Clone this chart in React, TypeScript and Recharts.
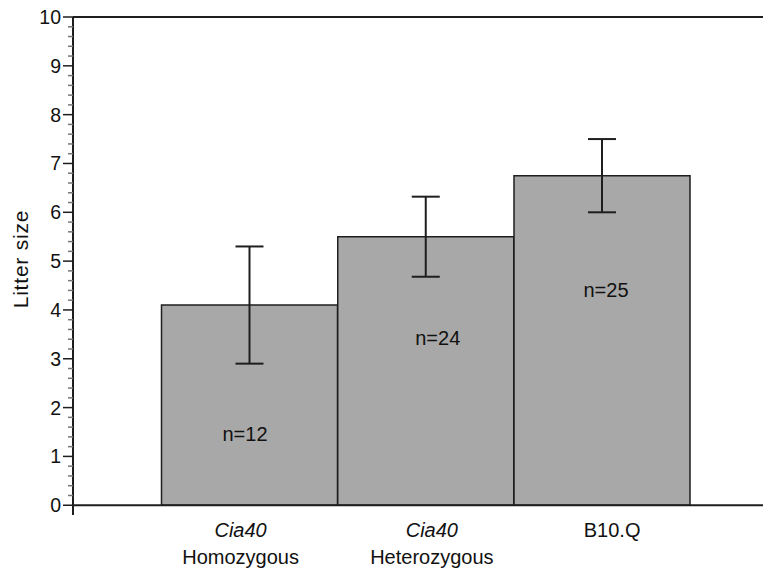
import React from "react"
import { Bar, BarChart, ErrorBar, LabelList, ReferenceLine, XAxis, YAxis } from "recharts"

const strainLine = ["Cia40", "Cia40", "B10.Q"]
const genotypeLine = ["Homozygous", "Heterozygous", ""]
const meanLitter = [4.1, 5.5, 6.75]
const errLitter = [1.2, 0.82, 0.75]
const counts = [12, 24, 25]
const majorTicks = [0, 1, 2, 3, 4, 5, 6, 7, 8, 9, 10]

const FONT = "'Liberation Sans', Arial, Helvetica, sans-serif"
const INK = "#1e1e1e"
const FS = 20

const rows = strainLine.map((s, i) => ({
  name: `${s} ${genotypeLine[i]}`.trim(),
  mean: meanLitter[i],
  err: errLitter[i],
  n: counts[i],
}))

// four minor ticks between each pair of labelled ticks
const yTicks = majorTicks.flatMap((t, i) =>
  i < majorTicks.length - 1 ? [0, 0.2, 0.4, 0.6, 0.8].map((f) => Math.round((t + f) * 10) / 10) : [t]
)

// hand placement of the text, matching the original figure
const tickShift = [-9, 6, 10]
const nShift = [-4.5, 12, 4]
const nRise = [71, 167, 215]

function YTick({ x, y, payload }: any) {
  const v = payload.value
  const major = Math.abs(v - Math.round(v)) < 1e-6
  return (
    <g>
      <line x1={x - (major ? 10 : 5)} x2={x} y1={y} y2={y} stroke={major ? INK : "#777"} strokeWidth={1.5} />
      {major && (
        <text x={x - 12} y={y + 7} textAnchor="end" fontSize={19.5} fontFamily={FONT} fill="#111">
          {v}
        </text>
      )}
    </g>
  )
}

function XTick({ x, y, index }: any) {
  const cx = x + tickShift[index]
  return (
    <g fontFamily={FONT} fontSize={FS} fill="#111">
      <text x={cx} y={y + 22} textAnchor="middle" fontStyle={index < 2 ? "italic" : "normal"}>
        {strainLine[index]}
      </text>
      {genotypeLine[index] && (
        <text x={cx} y={y + 49} textAnchor="middle">
          {genotypeLine[index]}
        </text>
      )}
    </g>
  )
}

function YTitle({ viewBox }: any) {
  const { x, y, height } = viewBox
  const cx = x + 2
  const cy = y + height / 2 - 7
  return (
    <text
      x={0}
      y={0}
      transform={`translate(${cx}, ${cy}) rotate(-90)`}
      textAnchor="middle"
      dominantBaseline="central"
      fontSize={21}
      letterSpacing={0.8}
      fontFamily={FONT}
      fill="#111"
    >
      Litter size
    </text>
  )
}

function CountLabel({ x, y, width, height, index }: any) {
  const bottom = y + height
  return (
    <text
      x={x + width / 2 + nShift[index]}
      y={bottom - nRise[index] + 7}
      textAnchor="middle"
      fontSize={FS}
      fontFamily={FONT}
      fill="#111"
    >
      n={counts[index]}
    </text>
  )
}

export default function App() {
  return (
    <div style={{ width: 763, height: 572, marginTop: -8, fontFamily: FONT }}>
      <BarChart
        width={763}
        height={572}
        data={rows}
        margin={{ top: 17, right: 0, bottom: 7, left: 10 }}
        barCategoryGap={0}
        barGap={0}
      >
        <XAxis
          dataKey="name"
          height={50}
          padding={{ left: 88.5, right: 80.75 }}
          axisLine={false}
          tickLine={false}
          tickSize={0}
          tickMargin={0}
          interval={0}
          tick={<XTick />}
        />
        <YAxis
          type="number"
          width={55}
          domain={[-0.2, 10]}
          allowDataOverflow
          ticks={yTicks}
          interval={0}
          tickLine={false}
          tickSize={0}
          tickMargin={0}
          axisLine={{ stroke: INK, strokeWidth: 2 }}
          tick={<YTick />}
          label={<YTitle />}
        />
        <Bar dataKey="mean" fill="#a8a8a8" stroke={INK} strokeWidth={1.5} isAnimationActive={false}>
          <ErrorBar dataKey="err" width={14} stroke={INK} strokeWidth={2} direction="y" />
          <LabelList dataKey="n" content={<CountLabel />} />
        </Bar>
        <ReferenceLine y={0} stroke={INK} strokeWidth={2} />
        <ReferenceLine y={10} stroke={INK} strokeWidth={2} />
      </BarChart>
    </div>
  )
}
